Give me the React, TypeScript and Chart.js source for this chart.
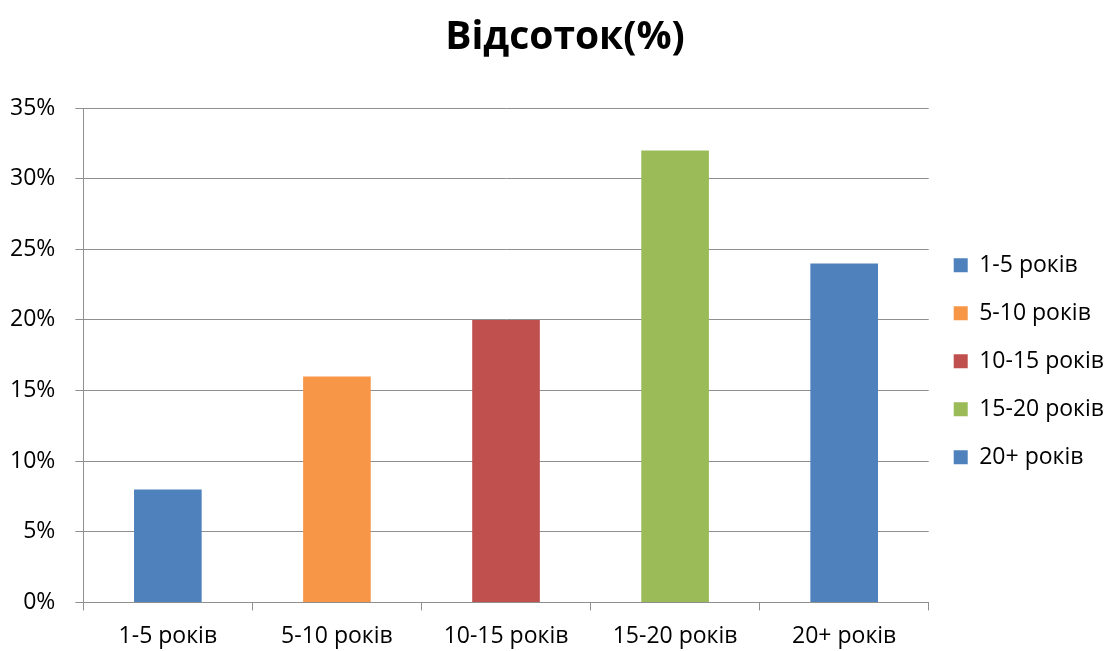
import React, { useEffect, useRef } from "react";
import { Chart, registerables } from "chart.js";

Chart.register(...registerables);

const categories = ["1-5 років", "5-10 років", "10-15 років", "15-20 років", "20+ років"];
const values = [0.08, 0.16, 0.2, 0.32, 0.24];
const colors = ["#4F81BD", "#F79646", "#C0504D", "#9BBB59", "#4F81BD"];
const titleText = "Відсоток(%)";
const FONT = "'Open Sans', 'Noto Sans', sans-serif";

const titlePlugin = {
  id: "centeredTitle",
  afterDraw(chart: any) {
    const c = chart.ctx;
    c.save();
    c.font = `bold 39px ${FONT}`;
    c.fillStyle = "#000";
    c.textAlign = "center";
    c.textBaseline = "middle";
    c.fillText(titleText, 565, 38);
    c.restore();
  },
};

export default function App() {
  const ref = useRef<HTMLCanvasElement | null>(null);
  useEffect(() => {
    document.body.style.margin = "0";
    const ctx = ref.current!;
    const chart = new Chart(ctx, {
      type: "bar",
      data: {
        labels: categories,
        datasets: [
          {
            label: titleText,
            data: values,
            backgroundColor: colors,
            borderWidth: 0,
            categoryPercentage: 1,
            barPercentage: 0.4,
          },
        ],
      },
      plugins: [titlePlugin],
      options: {
        animation: false,
        responsive: true,
        maintainAspectRatio: false,
        layout: { padding: { left: -10, right: 2, top: 108, bottom: -11 } },
        plugins: {
          tooltip: { enabled: false },
          title: { display: false },
          legend: {
            position: "right",
            align: "center",
            fullSize: false,
            title: {
              display: true,
              text: " ",
              font: { family: FONT, size: 10, lineHeight: 1.2 },
              padding: 0,
            },
            labels: {
              color: "#000",
              font: { family: FONT, size: 23 },
              boxWidth: 14,
              boxHeight: 14,
              padding: 25,
              generateLabels: () =>
                categories.map((c, i) => ({
                  text: c,
                  fillStyle: colors[i],
                  strokeStyle: colors[i],
                  lineWidth: 0,
                  hidden: false,
                  index: i,
                  fontColor: "#000",
                })),
            },
          },
        },
        scales: {
          x: {
            grid: {
              display: true,
              drawOnChartArea: false,
              drawTicks: true,
              tickLength: 8,
              color: "#8f8f8f",
              offset: true,
            },
            border: { color: "#8f8f8f", width: 1 },
            ticks: { color: "#000", font: { family: FONT, size: 23 }, padding: 12 },
          },
          y: {
            min: 0,
            max: 0.35,
            grid: { color: "#8f8f8f", tickLength: 8 },
            border: { color: "#8f8f8f", width: 1 },
            ticks: {
              stepSize: 0.05,
              color: "#000",
              font: { family: FONT, size: 23 },
              padding: 20,
              callback: (v: any) => Math.round(Number(v) * 100) + "%",
            },
          },
        },
      },
    });
    return () => chart.destroy();
  }, []);
  return (
    <div style={{ width: 1116, height: 651, position: "relative" }}>
      <canvas ref={ref} />
    </div>
  );
}
